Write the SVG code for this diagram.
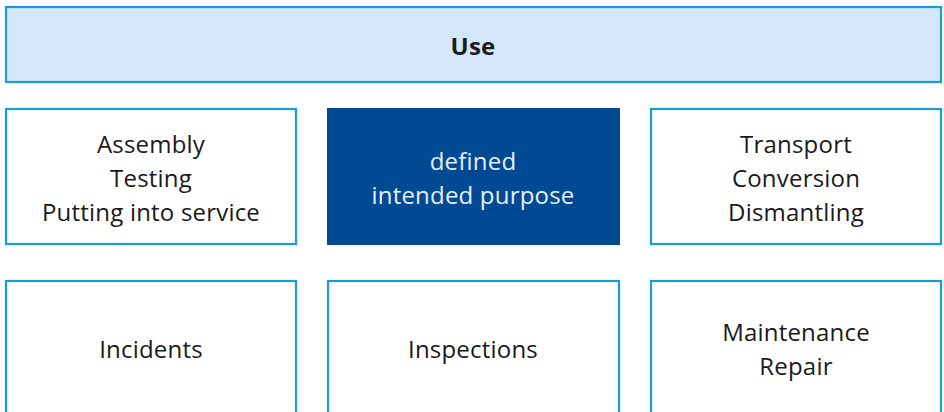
<svg xmlns="http://www.w3.org/2000/svg" width="944" height="412" viewBox="0 0 944 412">
  <style>
    .box { fill: #ffffff; stroke: #169ddb; stroke-width: 2.2; }
    .head { fill: #d3e7f8; stroke: #169ddb; stroke-width: 2.2; }
    .key { fill: #004a93; }
    text { font-family: "Open Sans", "Noto Sans", sans-serif; font-size: 24px; letter-spacing: 0.2px; text-anchor: middle; fill: #1a1a1a; }
    .bold { font-weight: bold; }
    .light { fill: #e6eef7; }
  </style>
  <g id="use">
    <rect class="head" x="6" y="7" width="935" height="75"/>
    <text class="bold" x="473" y="55">Use</text>
  </g>
  <g id="assembly">
    <rect class="box" x="6" y="109" width="290" height="135"/>
    <text x="151" y="153">Assembly</text>
    <text x="151" y="187">Testing</text>
    <text x="151" y="221">Putting into service</text>
  </g>
  <g id="purpose">
    <rect class="key" x="327" y="108" width="293" height="137"/>
    <text class="light" x="473" y="170">defined</text>
    <text class="light" x="473" y="204">intended purpose</text>
  </g>
  <g id="transport">
    <rect class="box" x="651" y="109" width="290" height="135"/>
    <text x="796" y="153">Transport</text>
    <text x="796" y="187">Conversion</text>
    <text x="796" y="221">Dismantling</text>
  </g>
  <g id="incidents">
    <rect class="box" x="6" y="281" width="290" height="140"/>
    <text x="151" y="358">Incidents</text>
  </g>
  <g id="inspections">
    <rect class="box" x="328" y="281" width="291" height="140"/>
    <text x="473" y="358">Inspections</text>
  </g>
  <g id="maintenance">
    <rect class="box" x="651" y="281" width="290" height="140"/>
    <text x="796" y="341">Maintenance</text>
    <text x="796" y="375">Repair</text>
  </g>
  <g id="connectors"/>
</svg>
